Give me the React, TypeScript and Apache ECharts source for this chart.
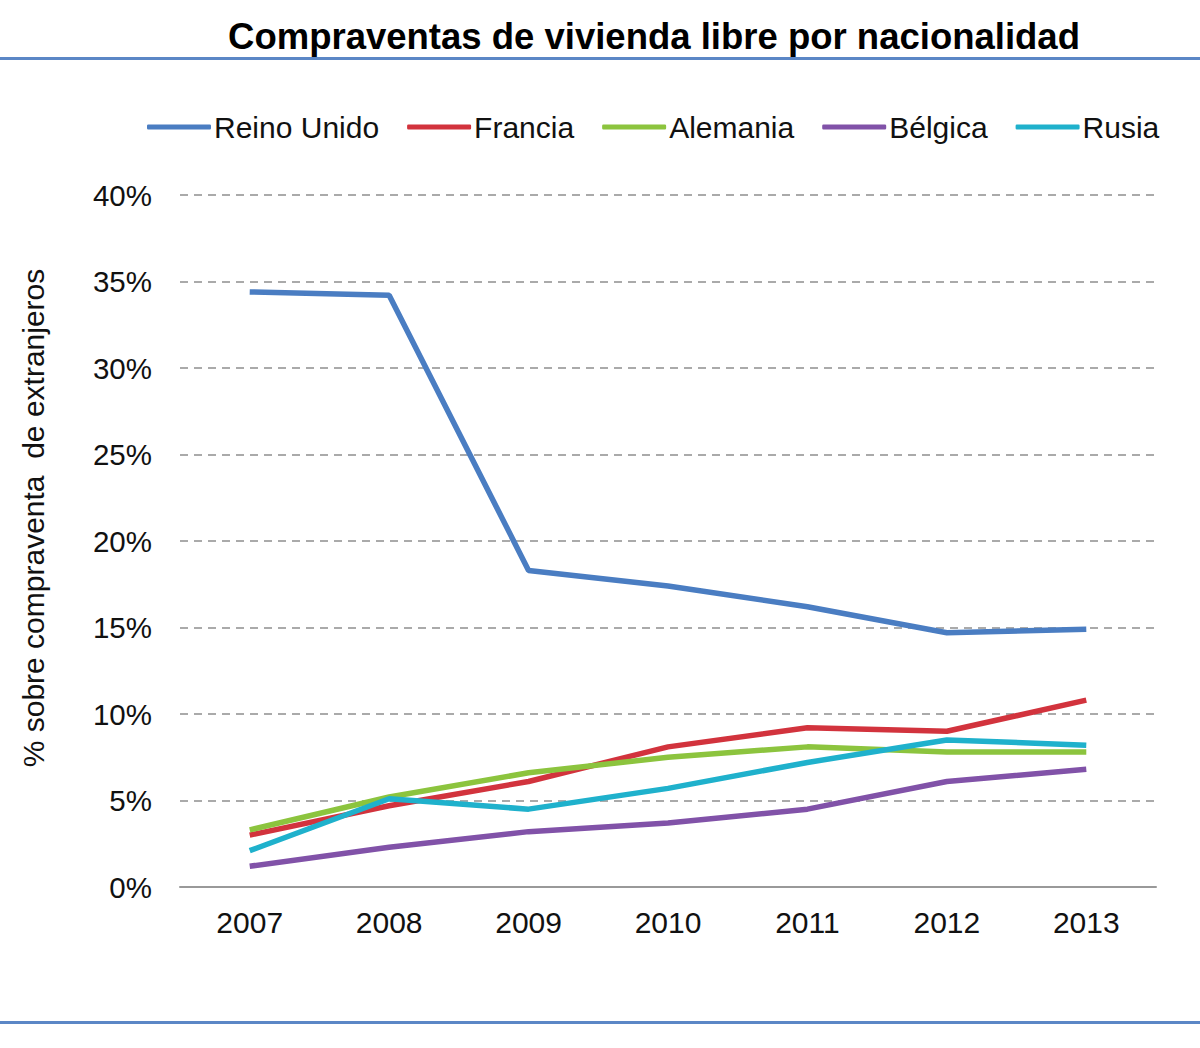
import React, { useEffect, useRef } from "react";
import * as echarts from "echarts";

const years = ["2007", "2008", "2009", "2010", "2011", "2012", "2013"];
const reinoUnido = [34.4, 34.2, 18.3, 17.4, 16.2, 14.7, 14.9];
const francia = [3.0, 4.7, 6.1, 8.1, 9.2, 9.0, 10.8];
const alemania = [3.3, 5.2, 6.6, 7.5, 8.1, 7.8, 7.8];
const belgica = [1.2, 2.3, 3.2, 3.7, 4.5, 6.1, 6.8];
const rusia = [2.1, 5.1, 4.5, 5.7, 7.2, 8.5, 8.2];
const yTicks = { min: 0, max: 40, interval: 5 };
const yAxisTitle = "% sobre compraventa  de extranjeros";

const seriesDefs = [
  { name: "Reino Unido", data: reinoUnido, color: "#4a7dc2" },
  { name: "Francia", data: francia, color: "#d2333d" },
  { name: "Alemania", data: alemania, color: "#8cc43e" },
  { name: "Bélgica", data: belgica, color: "#8152a8" },
  { name: "Rusia", data: rusia, color: "#1fb1cc" },
];

const FONT = "'Liberation Sans', Arial, sans-serif";

export default function App() {
  const ref = useRef<HTMLDivElement>(null);
  useEffect(() => {
    if (!ref.current) return;
    const chart = echarts.init(ref.current, undefined, { renderer: "svg" });
    chart.setOption({
      animation: false,
      backgroundColor: "#ffffff",
      title: {
        text: "Compraventas de vivienda libre por nacionalidad",
        left: 649,
        textAlign: "center",
        top: 13,
        textStyle: { fontFamily: FONT, fontWeight: "bold", fontSize: 36.5, color: "#000" },
      },
      graphic: [
        { type: "rect", shape: { x: 0, y: 57, width: 1200, height: 3 }, style: { fill: "#5b87c6" } },
        { type: "rect", shape: { x: 0, y: 1021, width: 1200, height: 3 }, style: { fill: "#5b87c6" } },
        {
          type: "text",
          x: 33,
          y: 518,
          rotation: Math.PI / 2,
          style: {
            text: yAxisTitle,
            fontFamily: FONT,
            fontSize: 30,
            fill: "#111",
            align: "center",
            verticalAlign: "middle",
          },
        },
      ],
      legend: {
        left: 142,
        top: 107,
        icon: "roundRect",
        itemWidth: 64,
        itemHeight: 5,
        itemGap: 28,
        textStyle: { fontFamily: FONT, fontSize: 30, color: "#111", padding: [0, 0, 0, -2] },
        data: seriesDefs.map((s) => s.name),
      },
      grid: { left: 180, right: 44, top: 195, bottom: 161, containLabel: false },
      xAxis: {
        type: "category",
        data: years,
        boundaryGap: true,
        axisLine: { show: true, lineStyle: { color: "#999", width: 2 } },
        axisTick: { show: false },
        axisLabel: { fontFamily: FONT, fontSize: 30, color: "#111", margin: 20 },
      },
      yAxis: {
        type: "value",
        min: yTicks.min,
        max: yTicks.max,
        interval: yTicks.interval,
        axisLine: { show: false },
        axisTick: { show: false },
        axisLabel: { formatter: "{value}%", fontFamily: FONT, fontSize: 29.5, color: "#111", margin: 28 },
        splitLine: {
          lineStyle: { color: "#aaa", type: [8, 6], width: 2 },
        },
      },
      series: seriesDefs.map((s) => ({
        name: s.name,
        type: "line",
        data: s.data,
        symbol: "none",
        color: s.color,
        lineStyle: { width: 5.5, color: s.color },
        itemStyle: { color: s.color },
      })),
    });
    return () => chart.dispose();
  }, []);
  return (
    <div
      ref={ref}
      style={{ position: "fixed", left: 0, top: 0, width: 1200, height: 1048, background: "#fff" }}
    />
  );
}
